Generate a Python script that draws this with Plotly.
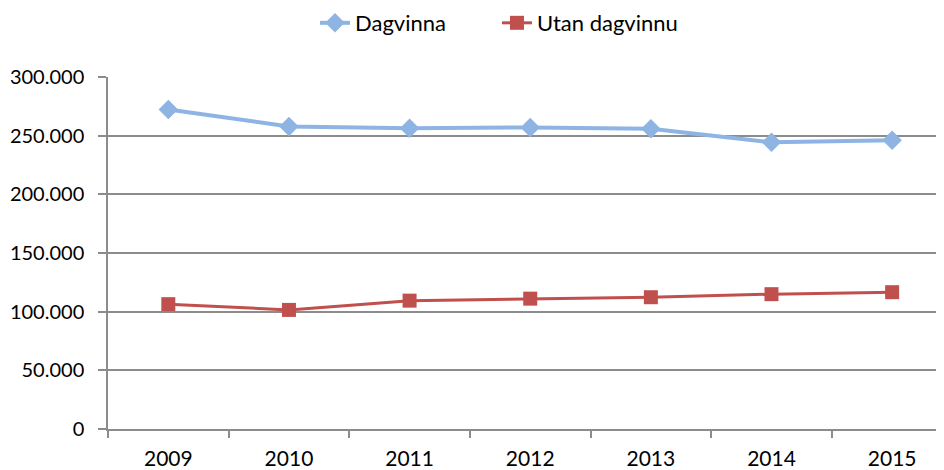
import plotly.graph_objects as go

years = ["2009", "2010", "2011", "2012", "2013", "2014", "2015"]
dagvinna = [272300, 257900, 256400, 257000, 255800, 244300, 246200]
utan_dagvinnu = [106400, 101500, 109400, 111100, 112300, 114900, 116600]
y_ticks = [0, 50000, 100000, 150000, 200000, 250000, 300000]

FONT = "Lato, Calibri, Carlito, sans-serif"
GRID = "#8c8c8c"

fig = go.Figure()
fig.add_trace(go.Scatter(
    x=years, y=dagvinna, name="Dagvinna", mode="lines+markers",
    line=dict(color="#8EB4E3", width=4),
    marker=dict(symbol="diamond", size=15, color="#8EB4E3"),
    legend="legend",
))
fig.add_trace(go.Scatter(
    x=years, y=utan_dagvinnu, name="Utan dagvinnu", mode="lines+markers",
    line=dict(color="#C0504D", width=3),
    marker=dict(symbol="square", size=14, color="#C0504D"),
    legend="legend2",
))

leg_common = dict(orientation="h", xref="container", yref="container",
                  y=0.9675, xanchor="left", yanchor="middle",
                  font=dict(size=22), bgcolor="rgba(0,0,0,0)")

fig.update_layout(
    width=936, height=462,
    margin=dict(l=100, r=0, t=69, b=41, autoexpand=False),
    paper_bgcolor="white", plot_bgcolor="white",
    separators=",.",
    font=dict(family=FONT, size=20, color="black"),
    showlegend=True,
    legend=dict(x=0.328, **leg_common),
    legend2=dict(x=0.5224, **leg_common),
)
fig.update_xaxes(
    type="category", range=[-0.5, 6.43],
    showgrid=False, showline=True, linecolor=GRID, linewidth=1.5,
    ticks="outside", ticklen=7, tickcolor=GRID, tickwidth=1.5,
    tickson="boundaries", ticklabelstandoff=10,
    tickfont=dict(size=21),
)
fig.update_yaxes(
    range=[0, 300000], tickvals=y_ticks, tickformat=",.0f",
    showgrid=True, gridcolor=GRID, gridwidth=1.5,
    showline=True, linecolor=GRID, linewidth=1.5,
    ticks="outside", ticklen=8, tickcolor=GRID, tickwidth=1.5,
    ticklabelstandoff=10, zeroline=False,
    tickfont=dict(size=20),
)

fig.write_html("out.html")
